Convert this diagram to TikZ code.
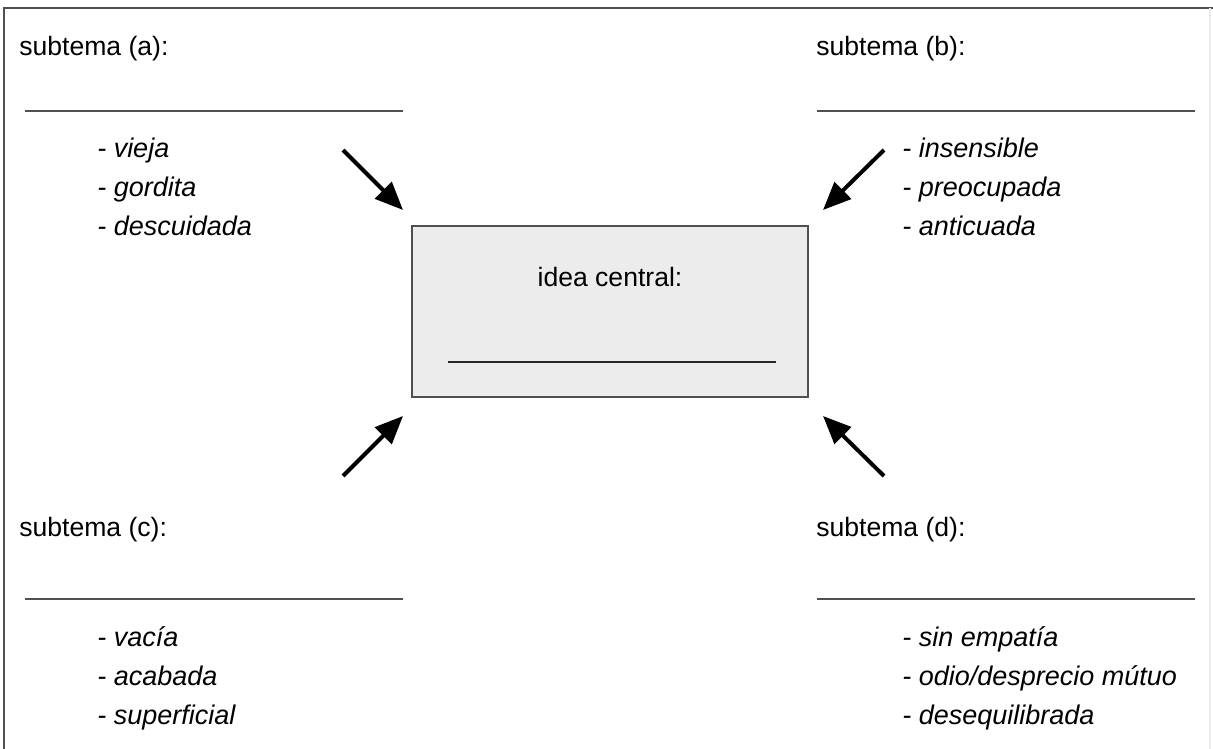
\documentclass[tikz,border=0pt]{standalone}
\usepackage{fontspec}
\setmainfont{Liberation Sans}
\usetikzlibrary{arrows.meta, positioning}
\definecolor{idea-gray}{RGB}{236,236,236}
\definecolor{rule-gray}{RGB}{80,80,80}

\begin{document}
\begin{tikzpicture}[
  x=0.025cm, y=-0.025cm,
  topic/.style={anchor=base west, inner sep=0pt, font=\fontsize{18.9}{22}\selectfont},
  entry/.style={anchor=base west, inner sep=0pt, font=\fontsize{19.2}{22}\selectfont\itshape},
  rule/.style={draw=rule-gray, line width=1.3pt},
  pointer/.style={-{Triangle[length=0.7cm, width=0.58cm]}, line width=0.1cm},
]
  \useasboundingbox (0,0) rectangle (1213,749);

  % Frame
  \draw[rule] (4,749) -- (4,8) -- (1213,8);
  \draw[gray!15, line width=0.8pt] (1210,8) -- (1210,749);

  % Central idea
  \node[draw=rule-gray, line width=1.3pt, fill=idea-gray, minimum width=396*0.025cm, minimum height=171*0.025cm, inner sep=0pt] (idea) at (610,311.5) {};
  \node[anchor=base, inner sep=0pt, font=\fontsize{18.9}{22}\selectfont] (ideatxt) at (610,286) {idea central:};
  \draw[black!85, line width=1.1pt] (448,362) -- (776,362);

  % Subtopics
  \node[topic] (suba) at (19,56) {subtema (a):};
  \node[topic] (subb) at (816,56) {subtema (b):};
  \node[topic] (subc) at (19,536) {subtema (c):};
  \node[topic] (subd) at (816,536) {subtema (d):};

  \draw[rule] (25,111) -- (403,111);
  \draw[rule] (817,111) -- (1195,111);
  \draw[rule] (25,599) -- (403,599);
  \draw[rule] (817,599) -- (1195,599);

  % Entries
  \node[entry] (a1) at (97,157) {- vieja};
  \node[entry] (a2) at (97,196) {- gordita};
  \node[entry] (a3) at (97,235) {- descuidada};

  \node[entry] (b1) at (902,157) {- insensible};
  \node[entry] (b2) at (902,196) {- preocupada};
  \node[entry] (b3) at (902,235) {- anticuada};

  \node[entry] (c1) at (97,646) {- vacía};
  \node[entry] (c2) at (97,685) {- acabada};
  \node[entry] (c3) at (97,724) {- superficial};

  \node[entry] (d1) at (902,646) {- sin empatía};
  \node[entry] (d2) at (902,685) {- odio/desprecio mútuo};
  \node[entry] (d3) at (902,724) {- desequilibrada};

  % Arrows
  \coordinate (atail) at (343,150);
  \coordinate (atip) at (403,210);
  \coordinate (btail) at (884,150);
  \coordinate (btip) at (823,210);
  \coordinate (ctail) at (343,476);
  \coordinate (ctip) at (403,416);
  \coordinate (dtail) at (884,476);
  \coordinate (dtip) at (823,416);

  \draw[pointer] (atail) -- (atip);
  \draw[pointer] (btail) -- (btip);
  \draw[pointer] (ctail) -- (ctip);
  \draw[pointer] (dtail) -- (dtip);
\end{tikzpicture}
\end{document}
